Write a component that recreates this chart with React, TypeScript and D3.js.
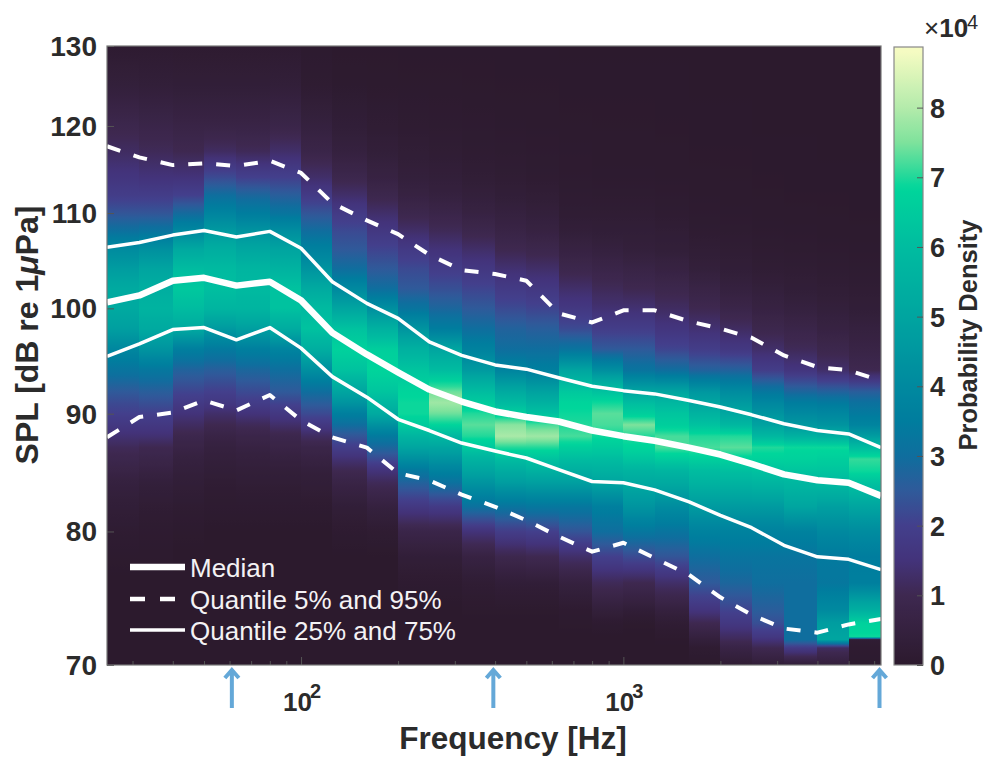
import { useEffect, useRef } from 'react'
import * as d3 from 'd3'

// third-octave band edges of the spectrogram [Hz]
const frequencies = [25, 31.5, 40, 50, 63, 80, 100, 125, 160, 200, 250, 315, 400, 500, 630, 800, 1000, 1250, 1600, 2000, 2500, 3150, 4000, 5000, 6300]

const median = [100.6, 101.3, 102.8, 103.1, 102.3, 102.7, 100.8, 97.6, 95.5, 93.8, 92.2, 91.1, 90.2, 89.7, 89.3, 88.5, 88.0, 87.6, 87.0, 86.4, 85.6, 84.7, 84.2, 84.0, 82.9]
const q75 = [106.3, 106.8, 107.6, 108.1, 107.4, 108.0, 106.2, 102.7, 100.5, 99.0, 96.7, 95.4, 94.5, 94.1, 93.3, 92.5, 92.1, 91.8, 91.2, 90.6, 89.9, 89.1, 88.5, 88.2, 87.0]
const q25 = [95.3, 96.5, 97.9, 98.1, 96.9, 98.1, 96.1, 93.4, 91.5, 89.5, 88.5, 87.4, 86.7, 86.1, 85.1, 84.1, 84.0, 83.4, 82.4, 81.3, 80.3, 78.9, 78.0, 77.8, 77.0]
const q95 = [117.6, 116.3, 115.4, 115.6, 115.3, 115.9, 114.5, 111.1, 109.2, 107.7, 105.5, 103.9, 103.5, 102.8, 99.5, 98.6, 99.8, 99.8, 98.7, 98.0, 97.1, 95.4, 94.3, 94.0, 93.0]
const q05 = [87.9, 89.7, 90.1, 91.2, 90.3, 91.7, 89.4, 87.9, 87.0, 84.8, 84.2, 83.0, 82.0, 80.9, 79.6, 78.4, 79.1, 77.9, 76.6, 74.9, 73.6, 72.6, 72.3, 72.9, 73.3]

// SPL levels at which each column's density was read
const splLevels = [130, 125, 120, 117, 114, 112, 110, 108, 106, 104, 102, 100, 98, 96, 94, 92, 91, 90, 89, 88, 87, 86, 85, 84, 82, 80, 78, 76, 74, 73, 72, 71.8, 71.2, 70]

// one row per frequency band, in units of 1e4, same order as splLevels
const densityColumns = [
  [.1, .4, .9, 1.2, 1.6, 1.9, 2.4, 3.1, 4.1, 4.7, 5.2, 5.2, 4.8, 3.9, 3.2, 2.5, 2.2, 2.0, 1.7, 1.4, 1.1, .9, .7, .5, .3, .15, .05, 0, 0, 0, 0, 0, 0, 0],
  [.1, .35, .8, 1.1, 1.5, 1.9, 2.4, 3.2, 4.3, 5.0, 5.4, 5.6, 5.2, 4.4, 3.3, 2.6, 2.3, 2.0, 1.7, 1.4, 1.0, .8, .6, .4, .2, .1, .05, 0, 0, 0, 0, 0, 0, 0],
  [.1, .3, .7, 1.0, 1.5, 2.0, 2.9, 4.0, 5.2, 6.0, 6.4, 6.0, 5.2, 3.6, 2.7, 2.1, 1.8, 1.5, 1.2, .9, .7, .5, .4, .3, .15, .05, 0, 0, 0, 0, 0, 0, 0, 0],
  [.1, .3, .7, 1.2, 2.2, 3.0, 3.8, 4.6, 5.4, 5.9, 6.1, 5.7, 4.6, 3.4, 2.6, 2.0, 1.7, 1.3, 1.0, .7, .5, .4, .3, .2, .1, 0, 0, 0, 0, 0, 0, 0, 0, 0],
  [.1, .3, .7, 1.1, 2.0, 2.8, 3.5, 4.4, 5.1, 5.7, 5.9, 5.7, 4.8, 3.6, 2.8, 2.2, 1.9, 1.5, 1.1, .8, .6, .45, .35, .25, .1, 0, 0, 0, 0, 0, 0, 0, 0, 0],
  [.1, .35, .8, 1.3, 2.0, 2.6, 3.2, 4.2, 5.0, 5.6, 6.2, 6.2, 5.3, 3.8, 3.0, 2.5, 2.1, 1.7, 1.3, .9, .7, .5, .35, .25, .1, 0, 0, 0, 0, 0, 0, 0, 0, 0],
  [.05, .15, .5, .8, 1.3, 1.8, 2.4, 3.0, 3.7, 4.4, 5.2, 5.9, 6.2, 5.4, 4.2, 3.0, 2.6, 2.2, 1.7, 1.2, .8, .6, .4, .3, .1, 0, 0, 0, 0, 0, 0, 0, 0, 0],
  [.02, .08, .3, .5, .9, 1.3, 1.8, 2.2, 2.5, 3.0, 4.0, 5.0, 6.2, 6.7, 6.2, 5.0, 4.4, 3.6, 3.0, 2.4, 1.9, 1.4, 1.0, .7, .3, .1, 0, 0, 0, 0, 0, 0, 0, 0],
  [.02, .06, .2, .35, .6, .9, 1.3, 1.7, 2.1, 2.5, 3.0, 4.2, 5.5, 6.6, 6.8, 6.3, 5.8, 5.2, 4.3, 3.4, 2.8, 2.2, 1.5, 1.1, .5, .15, 0, 0, 0, 0, 0, 0, 0, 0],
  [.02, .05, .15, .25, .4, .6, .9, 1.3, 1.8, 2.2, 2.5, 3.2, 4.4, 5.5, 6.3, 6.8, 6.9, 6.9, 6.5, 5.7, 5.0, 4.2, 3.3, 2.7, 1.7, .8, .3, .1, 0, 0, 0, 0, 0, 0],
  [.02, .05, .12, .2, .35, .5, .8, 1.1, 1.5, 1.9, 2.3, 2.8, 3.5, 5.0, 6.0, 7.4, 7.8, 7.4, 6.8, 5.8, 5.0, 4.4, 3.7, 3.1, 1.8, .8, .3, .1, 0, 0, 0, 0, 0, 0],
  [.02, .04, .1, .15, .25, .4, .6, .9, 1.3, 1.7, 2.1, 2.5, 3.0, 3.7, 4.6, 6.0, 6.5, 7.0, 7.3, 7.0, 6.4, 5.6, 5.0, 4.4, 3.1, 1.5, .6, .2, .05, 0, 0, 0, 0, 0],
  [.02, .03, .08, .12, .2, .3, .5, .7, 1.0, 1.4, 1.8, 2.2, 2.7, 3.0, 3.8, 5.2, 5.9, 6.6, 7.6, 7.9, 7.0, 6.0, 5.3, 4.7, 3.2, 1.9, .9, .3, .05, 0, 0, 0, 0, 0],
  [.02, .03, .07, .1, .15, .25, .4, .6, .9, 1.3, 1.7, 2.1, 2.6, 3.0, 3.6, 4.9, 5.5, 6.2, 7.2, 7.8, 7.0, 6.2, 5.5, 4.8, 3.3, 2.0, 1.0, .3, .05, 0, 0, 0, 0, 0],
  [.01, .02, .05, .08, .1, .15, .2, .35, .6, .9, 1.3, 1.7, 2.2, 3.2, 5.0, 6.4, 6.8, 6.9, 7.0, 7.2, 6.6, 6.0, 5.4, 4.8, 3.3, 2.4, 1.3, .5, .1, .05, 0, 0, 0, 0],
  [.01, .02, .04, .06, .08, .12, .2, .3, .5, .8, 1.1, 1.4, 1.9, 2.5, 4.2, 6.2, 6.9, 7.3, 7.2, 6.9, 6.5, 6.0, 5.5, 5.0, 3.6, 3.0, 2.0, 1.1, .4, .1, 0, 0, 0, 0],
  [.01, .02, .04, .06, .08, .12, .2, .3, .4, .7, 1.0, 1.4, 1.9, 2.5, 3.2, 5.0, 6.0, 6.6, 7.5, 7.0, 6.8, 6.3, 5.6, 5.2, 4.4, 3.3, 2.2, 1.0, .3, .05, 0, 0, 0, 0],
  [.01, .02, .03, .05, .07, .1, .15, .25, .35, .6, .9, 1.2, 1.6, 2.1, 3.0, 5.0, 5.8, 6.3, 6.6, 7.2, 7.2, 6.5, 5.7, 5.2, 4.1, 3.2, 2.4, 1.3, .5, .2, .05, .03, 0, 0],
  [.01, .01, .02, .03, .05, .07, .1, .15, .25, .4, .7, 1.0, 1.4, 1.9, 2.7, 4.5, 5.0, 5.6, 6.2, 7.0, 7.2, 6.6, 6.0, 5.6, 4.6, 3.7, 3.0, 2.5, 1.6, 1.0, .5, .4, .15, 0],
  [.01, .01, .02, .03, .04, .06, .08, .12, .2, .3, .5, .8, 1.2, 1.7, 2.7, 4.1, 4.6, 5.1, 5.8, 7.0, 7.3, 6.7, 6.1, 5.6, 4.6, 3.7, 3.2, 2.8, 2.1, 1.7, 1.2, 1.1, .7, .2],
  [.01, .01, .01, .02, .03, .04, .06, .09, .14, .22, .4, .6, .9, 1.3, 1.9, 3.3, 3.9, 4.4, 4.9, 5.8, 7.0, 6.7, 6.2, 5.7, 4.6, 3.7, 3.2, 3.0, 2.6, 2.3, 1.7, 1.5, 1.0, .3],
  [.01, .01, .01, .02, .02, .03, .05, .08, .12, .2, .3, .5, .8, 1.1, 1.6, 2.8, 3.5, 4.0, 4.5, 5.5, 6.9, 6.7, 6.3, 5.8, 5.0, 3.7, 3.2, 3.0, 3.0, 3.0, 3.0, 3.0, 1.8, .3],
  [.01, .01, .01, .01, .02, .03, .04, .06, .1, .16, .25, .4, .6, .9, 1.3, 2.7, 3.4, 3.9, 4.4, 5.4, 6.9, 6.6, 6.3, 5.9, 4.8, 4.0, 3.4, 3.3, 4.0, 4.7, 5.0, 5.0, 1.2, .4],
  [.01, .01, .01, .01, .02, .02, .03, .05, .08, .13, .2, .3, .5, .7, 1.0, 2.6, 3.1, 3.4, 3.8, 4.7, 6.0, 7.1, 6.9, 6.2, 5.0, 4.1, 3.5, 3.6, 5.4, 6.7, 6.9, .2, .1, .05],
]

const densityStops = [0, 1, 1.5, 2, 2.5, 3, 3.5, 4, 5, 6, 6.85, 7, 7.5, 8, 8.87]
const colorStops = ['#2c1a2d', '#3e2850', '#43337a', '#433f8c', '#2f5a9a', '#0f6e9e', '#007d9e', '#00899f', '#00a5a0', '#00bca0', '#00d69b', '#20d89a', '#7ee29c', '#b4ebab', '#fbfcc4']

const yTicks = [70, 80, 90, 100, 110, 120, 130]
const xDecades = [100, 1000]
const xMinorTicks = [30, 40, 50, 60, 70, 80, 90, 200, 300, 400, 500, 600, 700, 800, 900, 2000, 3000, 4000, 5000, 6000]
const colorbarTicks = [0, 1, 2, 3, 4, 5, 6, 7, 8]
const arrowFrequencies = [61, 395, 6300]

const FONT = '"Liberation Sans", Arial, sans-serif'
const TEXT = '#2b2b2b'

export default function App() {
  const ref = useRef<SVGSVGElement | null>(null)

  useEffect(() => {
    const root = d3.select(ref.current)
    root.selectAll('*').remove()

    const left = 107, right = 881, top = 46, bottom = 665
    const cbLeft = 894, cbRight = 923, cbTop = 47

    const x = d3.scaleLog().domain([25, 6300]).range([left, right])
    const y = d3.scaleLog().domain([70, 130]).range([bottom, top])
    const cb = d3.scaleLinear().domain([0, 8.87]).range([bottom, cbTop])
    const color = d3.scaleLinear<string>().domain(densityStops).range(colorStops).interpolate(d3.interpolateRgb).clamp(true)

    const defs = root.append('defs')

    // each band is a column with its own vertical gradient
    densityColumns.forEach((column, i) => {
      const grad = defs.append('linearGradient')
        .attr('id', `col-${i}`)
        .attr('gradientUnits', 'userSpaceOnUse')
        .attr('x1', 0).attr('x2', 0).attr('y1', top).attr('y2', bottom)
      column.forEach((d, k) => {
        if (k === column.length - 1) return
        const next = column[k + 1]
        const y0 = y(splLevels[k]), y1 = y(splLevels[k + 1])
        for (let s = 0; s < 4; s++) {
          const t = s / 4
          grad.append('stop')
            .attr('offset', ((y0 + (y1 - y0) * t) - top) / (bottom - top))
            .attr('stop-color', color(d + (next - d) * t))
        }
      })
      grad.append('stop').attr('offset', 1).attr('stop-color', color(column[column.length - 1]))

      // whole pixel edges so the columns leave no seams
      const x0 = Math.round(x(frequencies[i])), x1 = Math.round(x(frequencies[i + 1]))
      root.append('rect')
        .attr('x', x0)
        .attr('y', top)
        .attr('width', x1 - x0)
        .attr('height', bottom - top)
        .attr('fill', `url(#col-${i})`)
        .attr('shape-rendering', 'crispEdges')
    })

    const line = d3.line<number>()
      .x((_, i) => x(frequencies[i]))
      .y(d => y(d))

    const drawLine = (values: number[], width: number, dash?: string) => {
      root.append('path')
        .attr('d', line(values))
        .attr('fill', 'none')
        .attr('stroke', '#fff')
        .attr('stroke-width', width)
        .attr('stroke-linejoin', 'round')
        .attr('stroke-dasharray', dash ?? null)
    }
    drawLine(q95, 4, '14 14')
    drawLine(q05, 4, '14 14')
    drawLine(q75, 3.5)
    drawLine(q25, 3.5)
    drawLine(median, 6.5)

    // legend
    const legend = [
      { label: 'Median', width: 6.5, dash: null, rowY: 567 },
      { label: 'Quantile 5% and 95%', width: 4.5, dash: '15 15', rowY: 599 },
      { label: 'Quantile 25% and 75%', width: 3.5, dash: null, rowY: 630 },
    ]
    legend.forEach(d => {
      root.append('line')
        .attr('x1', 130).attr('x2', 185).attr('y1', d.rowY).attr('y2', d.rowY)
        .attr('stroke', '#fff').attr('stroke-width', d.width)
        .attr('stroke-dasharray', d.dash)
      root.append('text')
        .attr('x', 190).attr('y', d.rowY + 10)
        .attr('fill', '#f4f2f4')
        .attr('font-family', FONT)
        .attr('font-size', 26)
        .text(d.label)
    })

    // axes box and inward ticks
    const axisStroke = '#555'
    const styleAxis = (g: any) => {
      g.select('.domain').remove()
      g.selectAll('line').attr('stroke', axisStroke)
      g.selectAll('text').remove()
    }
    root.append('g').attr('transform', `translate(${left},0)`)
      .call(d3.axisLeft(y).tickValues(yTicks).tickSize(-7).tickFormat(() => ''))
      .call(styleAxis)
    root.append('g').attr('transform', `translate(0,${bottom})`)
      .call(d3.axisBottom(x).tickValues(xDecades).tickSize(-8).tickFormat(() => ''))
      .call(styleAxis)
    root.append('g').attr('transform', `translate(0,${bottom})`)
      .call(d3.axisBottom(x).tickValues(xMinorTicks).tickSize(-4).tickFormat(() => ''))
      .call(styleAxis)
    root.append('rect')
      .attr('x', left).attr('y', top).attr('width', right - left).attr('height', bottom - top)
      .attr('fill', 'none').attr('stroke', '#777').attr('stroke-width', 1.2)

    // y tick labels
    yTicks.forEach(t => {
      root.append('text')
        .attr('x', 97).attr('y', y(t) + 10)
        .attr('text-anchor', 'end')
        .attr('font-family', FONT).attr('font-weight', 700).attr('font-size', 28)
        .attr('fill', TEXT)
        .text(t)
    })

    // x tick labels, powers of ten
    xDecades.forEach(t => {
      root.append('text')
        .attr('x', x(t) - 18).attr('y', 711)
        .attr('font-family', FONT).attr('font-weight', 700).attr('font-size', 26)
        .attr('fill', TEXT)
        .text('10')
      root.append('text')
        .attr('x', x(t) + 9).attr('y', 698)
        .attr('font-family', FONT).attr('font-weight', 700).attr('font-size', 20)
        .attr('fill', TEXT)
        .text(Math.log10(t))
    })

    root.append('text')
      .attr('x', 513).attr('y', 749)
      .attr('text-anchor', 'middle')
      .attr('font-family', FONT).attr('font-weight', 700).attr('font-size', 31.5)
      .attr('fill', TEXT)
      .text('Frequency [Hz]')

    const yLabel = root.append('text')
      .attr('transform', 'translate(38,335) rotate(-90)')
      .attr('text-anchor', 'middle')
      .attr('font-family', FONT).attr('font-weight', 700).attr('font-size', 32)
      .attr('fill', TEXT)
    yLabel.append('tspan').text('SPL [dB re 1')
    yLabel.append('tspan').attr('font-style', 'italic').text('μ')
    yLabel.append('tspan').text('Pa]')

    // blue arrows under the axis
    arrowFrequencies.forEach(f => {
      const ax = Math.min(x(f), 879.5)
      const arrow = d3.path()
      arrow.moveTo(ax, 708)
      arrow.lineTo(ax, 671)
      arrow.moveTo(ax - 7, 678)
      arrow.lineTo(ax, 670)
      arrow.lineTo(ax + 7, 678)
      root.append('path')
        .attr('d', arrow.toString())
        .attr('fill', 'none')
        .attr('stroke', '#64a8d8')
        .attr('stroke-width', 4)
    })

    // colorbar
    const cbGrad = defs.append('linearGradient')
      .attr('id', 'colorbar')
      .attr('x1', 0).attr('x2', 0).attr('y1', 1).attr('y2', 0)
    d3.range(0, 8.9, 0.1).forEach(v => {
      cbGrad.append('stop').attr('offset', v / 8.87).attr('stop-color', color(v))
    })
    root.append('rect')
      .attr('x', cbLeft).attr('y', cbTop).attr('width', cbRight - cbLeft).attr('height', bottom - cbTop)
      .attr('fill', 'url(#colorbar)')
      .attr('stroke', '#888').attr('stroke-width', 1.2)
    root.append('g').attr('transform', `translate(${cbRight},0)`)
      .call(d3.axisRight(cb).tickValues(colorbarTicks).tickSize(-6).tickFormat(() => ''))
      .call(styleAxis)
    colorbarTicks.forEach(t => {
      root.append('text')
        .attr('x', 930).attr('y', cb(t) + 10)
        .attr('font-family', FONT).attr('font-weight', 700).attr('font-size', 27)
        .attr('fill', TEXT)
        .text(t)
    })

    root.append('text')
      .attr('transform', 'translate(977,335) rotate(-90)')
      .attr('text-anchor', 'middle')
      .attr('font-family', FONT).attr('font-weight', 700).attr('font-size', 25.5)
      .attr('fill', TEXT)
      .text('Probability Density')

    const scale = root.append('text')
      .attr('x', 924).attr('y', 37)
      .attr('font-family', FONT).attr('font-size', 26)
      .attr('fill', TEXT)
    scale.append('tspan').text('×')
    scale.append('tspan').attr('font-weight', 700).text('10')
    root.append('text')
      .attr('x', 967).attr('y', 29)
      .attr('font-family', FONT).attr('font-size', 20)
      .attr('fill', TEXT)
      .text('4')
  }, [])

  return (
    <svg
      ref={ref}
      width={985}
      height={759}
      style={{ position: 'absolute', left: 0, top: 0, background: '#fff' }}
    />
  )
}
